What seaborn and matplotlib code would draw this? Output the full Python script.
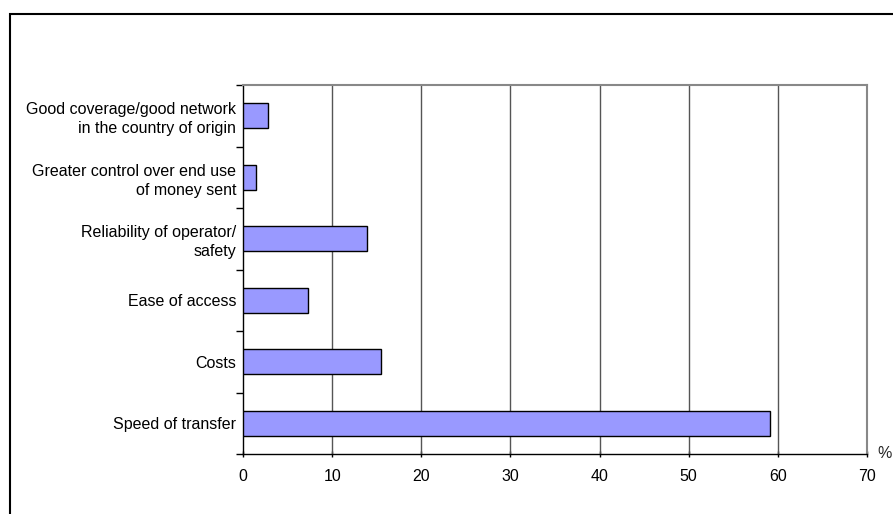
import matplotlib
matplotlib.use("Agg")
import matplotlib.pyplot as plt
import seaborn as sns
import pandas as pd
import numpy as np
from matplotlib.patches import Rectangle

# Reasons for choosing a money transfer channel (% of respondents)
categories = [
    "Good coverage/good network\nin the country of origin",
    "Greater control over end use\nof money sent",
    "Reliability of operator/\nsafety",
    "Ease of access",
    "Costs",
    "Speed of transfer",
]
shares = [2.8, 1.5, 13.9, 7.3, 15.5, 59.1]
x_ticks = [0, 10, 20, 30, 40, 50, 60, 70]

df = pd.DataFrame({"reason": categories, "share": shares})

sns.set_theme(style="white")
plt.rcParams["font.family"] = ["Liberation Sans", "DejaVu Sans"]

W, H = 893, 514
fig = plt.figure(figsize=(W / 100, H / 100), dpi=100)
ax = fig.add_axes([243 / W, (H - 454) / H, (867 - 243) / W, (454 - 85) / H])

sns.barplot(data=df, x="share", y="reason", order=categories, orient="h",
            color="#9999FF", edgecolor="black", linewidth=1.0, width=0.4,
            saturation=1, ax=ax, zorder=3)

ax.set_xlim(0, 70)
ax.set_ylim(len(categories) - 0.5, -0.5)
ax.set_xticks(x_ticks)
ax.set_xticklabels([str(t) for t in x_ticks], fontsize=11.5, color="black")
ax.set_xlabel("")
ax.set_ylabel("")

# vertical gridlines
for t in x_ticks[1:-1]:
    ax.axvline(t, color="#555555", linewidth=1.0, zorder=1)

# category labels, tick marks between categories
ax.set_yticks(range(len(categories)))
ax.set_yticklabels(categories, fontsize=11.5, color="black", ha="right",
                   multialignment="right", linespacing=1.35)
ax.tick_params(axis="y", which="major", length=0, pad=5)
ax.set_yticks(np.arange(-0.5, len(categories), 1.0), minor=True)
ax.tick_params(axis="y", which="minor", length=5, width=1, color="black",
               direction="out", left=True)
ax.tick_params(axis="x", which="major", length=4, width=1, color="black",
               direction="inout", bottom=True, pad=9)

for side in ["left", "bottom"]:
    ax.spines[side].set_color("black")
    ax.spines[side].set_linewidth(1.0)
for side in ["top", "right"]:
    ax.spines[side].set_color("#888888")
    ax.spines[side].set_linewidth(1.5)
    ax.spines[side].set_visible(True)

fig.text(892 / W, (H - 453) / H, "%", fontsize=11.5, ha="right", va="center")

# outer chart frame
fig.patches.append(Rectangle((9.5 / W, -0.05), 1.2, (H - 13.5) / H + 0.05,
                             transform=fig.transFigure, fill=False,
                             edgecolor="black", linewidth=1.5))

fig.savefig("out.png", dpi=100)
